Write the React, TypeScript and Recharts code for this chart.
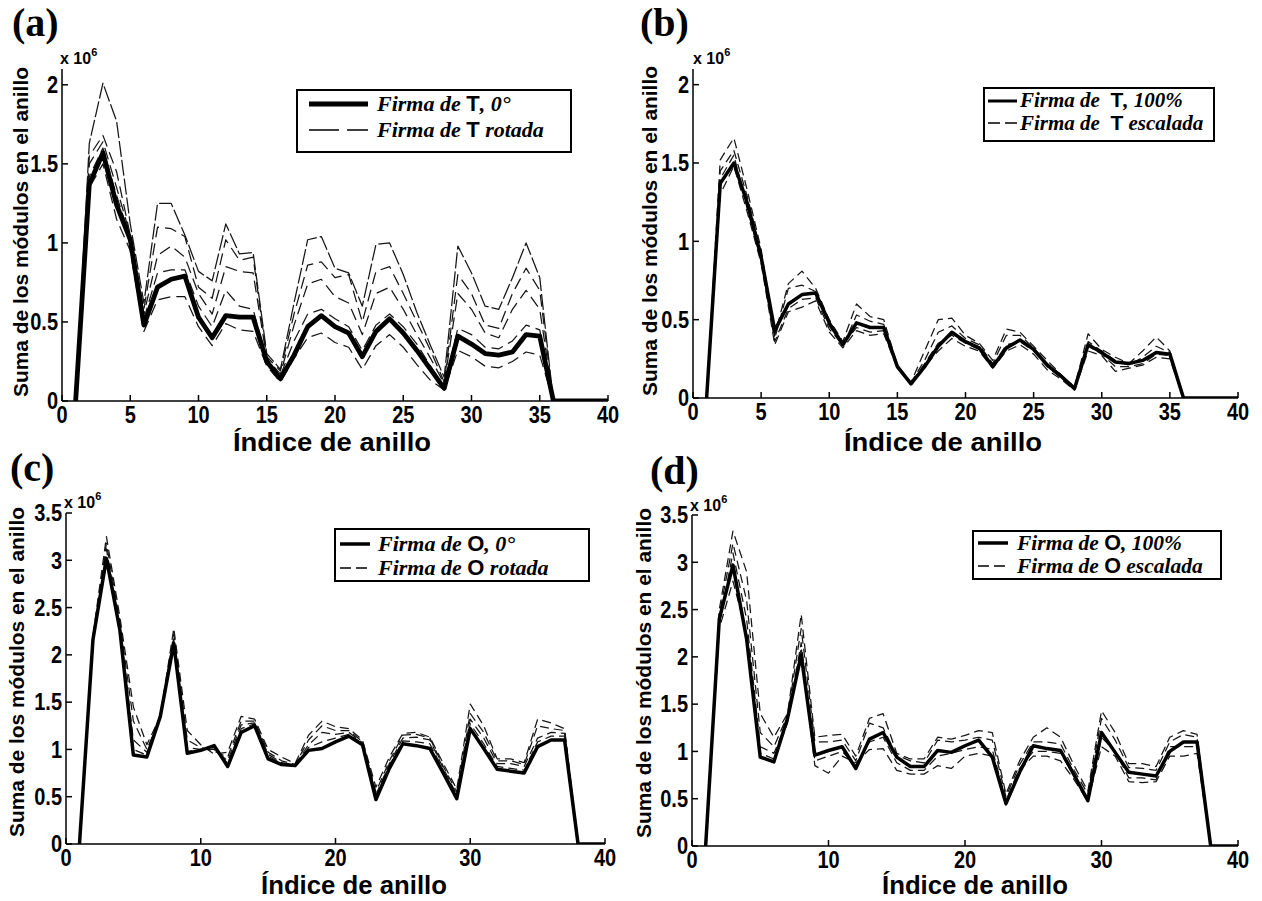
import React from 'react';
import { LineChart, Line, XAxis, YAxis, Legend } from 'recharts';

// ---------- data (values in units of 10^6) ----------
const ringIndex = [1, 2, 3, 4, 5, 6, 7, 8, 9, 10, 11, 12, 13, 14, 15, 16, 17, 18, 19, 20,
  21, 22, 23, 24, 25, 26, 27, 28, 29, 30, 31, 32, 33, 34, 35, 36, 37, 38, 39, 40];

const xTicksAB = [0, 5, 10, 15, 20, 25, 30, 35, 40];
const xTicksCD = [0, 10, 20, 30, 40];
const yTicksAB = [0, 0.5, 1, 1.5, 2];
const yTicksARight = [0, 0.2, 0.4, 0.6, 0.8, 1, 1.2, 1.4, 1.6, 1.8, 2];
const yTicksCD = [0, 0.5, 1, 1.5, 2, 2.5, 3, 3.5];

// (a) Firma de T, 0° and rotated versions
const tSignature0 = [0, 1.37, 1.57, 1.24, 1.02, 0.48, 0.72, 0.77, 0.79, 0.53,
  0.40, 0.54, 0.53, 0.53, 0.25, 0.14, 0.29, 0.47, 0.54, 0.47,
  0.43, 0.28, 0.44, 0.52, 0.43, 0.32, 0.20, 0.08, 0.41, 0.36,
  0.30, 0.29, 0.31, 0.42, 0.41, 0, 0, 0, 0, 0];
const tRotated1 = [0, 1.63, 2.01, 1.77, 1.12, 0.62, 1.25, 1.25, 1.05, 0.82,
  0.76, 1.12, 0.93, 0.94, 0.30, 0.20, 0.62, 1.02, 1.04, 0.84,
  0.81, 0.60, 0.99, 1.00, 0.80, 0.56, 0.35, 0.15, 0.98, 0.81,
  0.60, 0.58, 0.78, 1.00, 0.78, 0, 0, 0, 0, 0];
const tRotated2 = [0, 1.55, 1.68, 1.45, 1.05, 0.58, 1.10, 1.09, 1.04, 0.72,
  0.65, 1.02, 0.89, 0.91, 0.28, 0.19, 0.55, 0.86, 0.88, 0.78,
  0.80, 0.50, 0.82, 0.85, 0.68, 0.50, 0.32, 0.12, 0.80, 0.68,
  0.48, 0.46, 0.68, 0.84, 0.70, 0, 0, 0, 0, 0];
const tRotated3 = [0, 1.50, 1.64, 1.35, 1.05, 0.55, 0.92, 0.98, 0.91, 0.68,
  0.55, 0.85, 0.82, 0.81, 0.27, 0.17, 0.48, 0.74, 0.77, 0.66,
  0.62, 0.42, 0.68, 0.72, 0.58, 0.42, 0.27, 0.11, 0.68, 0.58,
  0.43, 0.40, 0.58, 0.70, 0.58, 0, 0, 0, 0, 0];
const tRotated4 = [0, 1.42, 1.60, 1.30, 1.03, 0.52, 0.81, 0.83, 0.83, 0.60,
  0.47, 0.70, 0.60, 0.58, 0.26, 0.16, 0.38, 0.55, 0.58, 0.52,
  0.47, 0.32, 0.48, 0.55, 0.47, 0.36, 0.22, 0.09, 0.46, 0.42,
  0.34, 0.33, 0.38, 0.48, 0.45, 0, 0, 0, 0, 0];
const tRotated5 = [0, 1.35, 1.50, 1.15, 0.95, 0.44, 0.64, 0.66, 0.66, 0.47,
  0.35, 0.49, 0.45, 0.44, 0.22, 0.12, 0.27, 0.40, 0.43, 0.37,
  0.34, 0.20, 0.35, 0.42, 0.34, 0.23, 0.13, 0.07, 0.32, 0.28,
  0.22, 0.21, 0.25, 0.31, 0.29, 0, 0, 0, 0, 0];

// (b) Firma de T, 100% and scaled versions
const tSignature100 = [0, 1.37, 1.50, 1.24, 0.90, 0.43, 0.60, 0.66, 0.67, 0.48,
  0.34, 0.48, 0.45, 0.45, 0.20, 0.09, 0.20, 0.33, 0.42, 0.36,
  0.32, 0.20, 0.32, 0.37, 0.31, 0.21, 0.14, 0.06, 0.34, 0.29,
  0.23, 0.22, 0.24, 0.29, 0.28, 0, 0, 0, 0, 0];
const tScaled1 = [0, 1.52, 1.66, 1.32, 0.95, 0.40, 0.73, 0.81, 0.70, 0.50,
  0.36, 0.60, 0.52, 0.50, 0.21, 0.10, 0.30, 0.50, 0.51, 0.40,
  0.35, 0.24, 0.44, 0.42, 0.33, 0.24, 0.15, 0.07, 0.41, 0.31,
  0.26, 0.22, 0.30, 0.39, 0.30, 0, 0, 0, 0, 0];
const tScaled2 = [0, 1.45, 1.58, 1.28, 0.93, 0.38, 0.70, 0.72, 0.68, 0.46,
  0.33, 0.53, 0.49, 0.47, 0.20, 0.10, 0.24, 0.42, 0.46, 0.38,
  0.34, 0.22, 0.40, 0.40, 0.32, 0.22, 0.15, 0.07, 0.36, 0.30,
  0.24, 0.21, 0.26, 0.33, 0.29, 0, 0, 0, 0, 0];
const tScaled3 = [0, 1.40, 1.55, 1.20, 0.88, 0.36, 0.57, 0.63, 0.64, 0.44,
  0.34, 0.45, 0.42, 0.43, 0.19, 0.09, 0.22, 0.35, 0.40, 0.35,
  0.31, 0.21, 0.34, 0.36, 0.30, 0.20, 0.13, 0.06, 0.33, 0.28,
  0.20, 0.20, 0.22, 0.28, 0.27, 0, 0, 0, 0, 0];
const tScaled4 = [0, 1.30, 1.48, 1.18, 0.86, 0.34, 0.55, 0.58, 0.62, 0.42,
  0.32, 0.43, 0.40, 0.41, 0.19, 0.09, 0.20, 0.30, 0.38, 0.33,
  0.30, 0.19, 0.30, 0.34, 0.28, 0.18, 0.12, 0.05, 0.30, 0.27,
  0.17, 0.19, 0.21, 0.26, 0.25, 0, 0, 0, 0, 0];

// (c) Firma de O, 0° and rotated versions
const oSignature0 = [0, 2.16, 3.02, 2.26, 0.94, 0.92, 1.35, 2.12, 0.96, 0.99,
  1.04, 0.82, 1.18, 1.25, 0.90, 0.84, 0.83, 0.99, 1.01, 1.08,
  1.14, 1.05, 0.47, 0.80, 1.06, 1.04, 1.01, 0.75, 0.48, 1.22,
  1.01, 0.79, 0.77, 0.75, 1.03, 1.10, 1.10, 0, 0, 0];
const oRotated1 = [0, 2.20, 3.25, 2.40, 1.45, 1.05, 1.35, 2.28, 1.20, 1.05,
  0.95, 0.97, 1.35, 1.32, 1.00, 0.92, 0.85, 1.15, 1.30, 1.24,
  1.22, 1.10, 0.60, 0.92, 1.17, 1.18, 1.13, 0.85, 0.58, 1.48,
  1.25, 0.90, 0.90, 0.86, 1.32, 1.28, 1.22, 0, 0, 0];
const oRotated2 = [0, 2.18, 3.18, 2.35, 1.30, 1.00, 1.34, 2.22, 1.10, 1.02,
  0.98, 0.92, 1.30, 1.30, 0.97, 0.88, 0.84, 1.10, 1.25, 1.20,
  1.20, 1.08, 0.55, 0.88, 1.15, 1.16, 1.12, 0.82, 0.55, 1.38,
  1.18, 0.88, 0.88, 0.84, 1.25, 1.22, 1.20, 0, 0, 0];
const oRotated3 = [0, 2.17, 3.12, 2.30, 1.10, 0.97, 1.33, 2.18, 1.02, 1.00,
  1.00, 0.88, 1.26, 1.28, 0.95, 0.86, 0.84, 1.05, 1.18, 1.16,
  1.18, 1.07, 0.52, 0.85, 1.12, 1.13, 1.10, 0.80, 0.52, 1.32,
  1.12, 0.85, 0.85, 0.82, 1.12, 1.18, 1.17, 0, 0, 0];
const oRotated4 = [0, 2.16, 3.06, 2.28, 1.00, 0.94, 1.34, 2.15, 0.98, 1.00,
  1.02, 0.85, 1.22, 1.27, 0.93, 0.85, 0.83, 1.02, 1.08, 1.12,
  1.16, 1.06, 0.50, 0.83, 1.09, 1.08, 1.06, 0.78, 0.50, 1.27,
  1.06, 0.82, 0.80, 0.78, 1.08, 1.14, 1.14, 0, 0, 0];

// (d) Firma de O, 100% and scaled versions
const oSignature100 = [0, 2.40, 2.97, 2.19, 0.94, 0.89, 1.35, 2.02, 0.96, 1.01,
  1.05, 0.82, 1.13, 1.20, 0.94, 0.84, 0.84, 1.01, 0.99, 1.06,
  1.12, 0.94, 0.45, 0.78, 1.06, 1.03, 1.01, 0.75, 0.48, 1.20,
  0.99, 0.78, 0.76, 0.74, 1.00, 1.10, 1.10, 0, 0, 0];
const oScaled1 = [0, 2.50, 3.33, 2.90, 1.40, 1.15, 1.40, 2.45, 1.15, 1.17,
  1.18, 0.95, 1.35, 1.40, 0.98, 0.92, 0.92, 1.15, 1.13, 1.17,
  1.22, 1.20, 0.55, 0.90, 1.15, 1.25, 1.15, 0.85, 0.58, 1.43,
  1.20, 0.87, 0.87, 0.84, 1.15, 1.22, 1.18, 0, 0, 0];
const oScaled2 = [0, 2.45, 3.20, 2.60, 1.20, 1.05, 1.38, 2.30, 1.10, 1.10,
  1.12, 0.90, 1.30, 1.25, 0.96, 0.90, 0.88, 1.12, 1.10, 1.12,
  1.15, 1.12, 0.52, 0.86, 1.10, 1.10, 1.08, 0.80, 0.55, 1.35,
  1.12, 0.83, 0.82, 0.80, 1.10, 1.18, 1.15, 0, 0, 0];
const oScaled3 = [0, 2.35, 3.10, 2.40, 1.05, 0.98, 1.32, 2.15, 0.90, 0.95,
  1.00, 0.85, 1.10, 1.15, 0.88, 0.80, 0.80, 0.95, 0.98, 1.02,
  1.05, 1.02, 0.48, 0.82, 1.00, 1.00, 0.98, 0.75, 0.50, 1.15,
  1.00, 0.72, 0.72, 0.70, 1.05, 1.05, 1.05, 0, 0, 0];
const oScaled4 = [0, 2.30, 2.80, 2.25, 0.98, 0.92, 1.30, 2.10, 0.85, 0.77,
  0.95, 0.88, 1.02, 1.03, 0.80, 0.76, 0.76, 0.85, 0.82, 0.95,
  0.98, 0.95, 0.43, 0.80, 0.95, 0.95, 0.90, 0.70, 0.47, 1.05,
  0.95, 0.68, 0.67, 0.68, 0.95, 0.95, 0.98, 0, 0, 0];

// ---------- styling ----------
const SANS = "'Liberation Sans', Arial, Helvetica, sans-serif";
const SERIF = "'Liberation Serif', 'Times New Roman', serif";

type Series = { key: string; values: number[]; width: number; dash?: string; color: string };
type Box = { left: number; top: number; w: number; h: number };
type LegendCfg = {
  left: number; top: number; w: number; h: number; font: number;
  lineX: [number, number]; rowY: [number, number]; textX: number; base: [number, number];
  thick: number; dash: string; letter: string; pre: string; post: [string, string];
};

const thin = (key: string, values: number[], dash: string): Series => ({ key, values, width: 1.25, dash, color: '#151515' });

const panels: {
  id: string; box: Box; yDomain: [number, number]; yTicks: number[]; yTicksRight: number[];
  xTicks: number[]; series: Series[]; legend: LegendCfg;
}[] = [
  {
    id: 'a', box: { left: 62, top: 69, w: 546, h: 332 }, yDomain: [0, 2.1], yTicks: yTicksAB, yTicksRight: yTicksARight,
    xTicks: xTicksAB,
    series: [
      thin('r1', tRotated1, '16 3'), thin('r2', tRotated2, '12 6'), thin('r3', tRotated3, '12 6'),
      thin('r4', tRotated4, '12 6'), thin('r5', tRotated5, '12 6'),
      { key: 'main', values: tSignature0, width: 4.8, color: '#000' },
    ],
    legend: {
      left: 296, top: 89, w: 276, h: 64, font: 22, lineX: [13, 72], rowY: [15, 41], textX: 81, base: [22, 48],
      thick: 5, dash: '30 8', letter: 'T', pre: 'Firma de ', post: [', 0°', ' rotada'],
    },
  },
  {
    id: 'b', box: { left: 693, top: 69, w: 545, h: 329 }, yDomain: [0, 2.1], yTicks: yTicksAB, yTicksRight: yTicksAB,
    xTicks: xTicksAB,
    series: [
      thin('s1', tScaled1, '9 5'), thin('s2', tScaled2, '9 5'), thin('s3', tScaled3, '9 5'), thin('s4', tScaled4, '9 5'),
      { key: 'main', values: tSignature100, width: 3.5, color: '#000' },
    ],
    legend: {
      left: 983, top: 87, w: 232, h: 55, font: 21, lineX: [5, 34], rowY: [14, 36], textX: 37, base: [20, 43],
      thick: 3, dash: '12 5', letter: 'T', pre: 'Firma de  ', post: [', 100%', ' escalada'],
    },
  },
  {
    id: 'c', box: { left: 66, top: 513, w: 539, h: 331 }, yDomain: [0, 3.5], yTicks: yTicksCD, yTicksRight: yTicksCD,
    xTicks: xTicksCD,
    series: [
      thin('r1', oRotated1, '9 5'), thin('r2', oRotated2, '9 5'), thin('r3', oRotated3, '9 5'), thin('r4', oRotated4, '9 5'),
      { key: 'main', values: oSignature0, width: 3.5, color: '#000' },
    ],
    legend: {
      left: 334, top: 528, w: 256, h: 54, font: 22, lineX: [6, 36], rowY: [16, 40], textX: 44, base: [23, 47],
      thick: 3.5, dash: '11 5', letter: 'O', pre: 'Firma de ', post: [', 0°', ' rotada'],
    },
  },
  {
    id: 'd', box: { left: 692, top: 515, w: 546, h: 331 }, yDomain: [0, 3.5], yTicks: yTicksCD, yTicksRight: yTicksCD,
    xTicks: xTicksCD,
    series: [
      thin('s1', oScaled1, '9 5'), thin('s2', oScaled2, '9 5'), thin('s3', oScaled3, '9 5'), thin('s4', oScaled4, '9 5'),
      { key: 'main', values: oSignature100, width: 3.5, color: '#000' },
    ],
    legend: {
      left: 972, top: 530, w: 250, h: 50, font: 21.5, lineX: [6, 36], rowY: [13, 36], textX: 45, base: [20, 43],
      thick: 3.5, dash: '11 5', letter: 'O', pre: 'Firma de ', post: [', 100%', ' escalada'],
    },
  },
];

function LegendBox({ cfg }: { cfg: LegendCfg }) {
  const rows = [0, 1];
  return (
    <svg width={cfg.w} height={cfg.h} style={{ display: 'block' }}>
      <rect x={1} y={1} width={cfg.w - 2} height={cfg.h - 2} fill="#fff" stroke="#000" strokeWidth={2} />
      <line x1={cfg.lineX[0]} x2={cfg.lineX[1]} y1={cfg.rowY[0]} y2={cfg.rowY[0]} stroke="#000" strokeWidth={cfg.thick} />
      <line x1={cfg.lineX[0]} x2={cfg.lineX[1]} y1={cfg.rowY[1]} y2={cfg.rowY[1]} stroke="#000" strokeWidth={1.4} strokeDasharray={cfg.dash} />
      {rows.map((r) => (
        <text key={r} x={cfg.textX} y={cfg.base[r]} fontFamily={SERIF} fontStyle="italic" fontWeight="bold" fontSize={cfg.font}
          fill="#000" style={{ whiteSpace: 'pre' }}>
          <tspan>{cfg.pre}</tspan>
          <tspan fontFamily={SANS} fontStyle="normal">{cfg.letter}</tspan>
          <tspan>{cfg.post[r]}</tspan>
        </text>
      ))}
    </svg>
  );
}

// tick label: bold sans, slightly stretched vertically like the scanned figure
function AxisTick(props: any) {
  const { x, y, payload, textAnchor, orientation } = props;
  const label = String(payload.value);
  const dy = orientation === 'bottom' ? '0.72em' : '0.36em';
  return (
    <g transform={`translate(${x},${y}) scale(1,1.15)`}>
      <text x={0} y={0} dy={dy} textAnchor={textAnchor} fill="#000" fontSize={20} fontWeight="bold" fontFamily={SANS}>
        {label}
      </text>
    </g>
  );
}

function Panel({ p }: { p: (typeof panels)[number] }) {
  const L = 60, T = 20, R = 24, B = 40;
  const data = ringIndex.map((x, k) => {
    const row: Record<string, number> = { x };
    p.series.forEach((s) => { row[s.key] = s.values[k]; });
    return row;
  });
  const originX = p.box.left - L;
  const originY = p.box.top - T;
  return (
    <div style={{ position: 'absolute', left: originX, top: originY }}>
      <LineChart width={p.box.w + L + R} height={p.box.h + T + B} data={data}
        margin={{ top: T, right: R, bottom: B - 30, left: L - 50 }} style={{ overflow: 'visible' }}>
        <XAxis xAxisId="b" dataKey="x" type="number" domain={[0, 40]} ticks={p.xTicks} interval={0} height={30}
          tickSize={-6} tickMargin={11} stroke="#000" strokeWidth={1.5}
          tick={<AxisTick orientation="bottom" />} allowDataOverflow />
        <XAxis xAxisId="t" orientation="top" dataKey="x" type="number" domain={[0, 40]} ticks={p.xTicks} interval={0}
          height={0} tickSize={-6} tick={false} stroke="#000" strokeWidth={1.5} allowDataOverflow />
        <YAxis yAxisId="l" type="number" domain={p.yDomain} ticks={p.yTicks} interval={0} width={50}
          tickSize={-6} tickMargin={10} stroke="#000" strokeWidth={1.5}
          tick={<AxisTick orientation="left" />} allowDataOverflow />
        <YAxis yAxisId="r" orientation="right" type="number" domain={p.yDomain} ticks={p.yTicksRight} interval={0} width={0}
          tickSize={-6} tick={false} stroke="#000" strokeWidth={1.5} allowDataOverflow />
        {p.series.map((s) => (
          <Line key={s.key} xAxisId="b" yAxisId="l" dataKey={s.key} type="linear" stroke={s.color}
            strokeWidth={s.width} strokeDasharray={s.dash} dot={false} activeDot={false}
            isAnimationActive={false} strokeLinejoin="round" legendType="none" />
        ))}
        <Legend verticalAlign="middle" align="center" layout="horizontal"
          wrapperStyle={{ left: p.legend.left - originX, top: p.legend.top - originY, width: p.legend.w, height: p.legend.h }}
          content={() => <LegendBox cfg={p.legend} />} />
      </LineChart>
    </div>
  );
}

const annotations = [
  { letter: '(a)', lx: 12, ly: 36, ex: 60, ey: 64, yx: 28, yy: 232, xx: 332, xy: 451, xw: 198 },
  { letter: '(b)', lx: 640, ly: 36, ex: 693, ey: 64, yx: 657, yy: 231, xx: 943, xy: 451, xw: 198 },
  { letter: '(c)', lx: 10, ly: 481, ex: 64, ey: 508, yx: 24, yy: 672, xx: 354, xy: 894, xw: 186 },
  { letter: '(d)', lx: 650, ly: 484, ex: 690, ey: 511, yx: 651, yy: 673, xx: 975, xy: 894, xw: 186 },
];

export default function App() {
  return (
    <div style={{ position: 'absolute', left: 0, top: 0, width: 1262, height: 901, background: '#fff', overflow: 'hidden' }}>
      {panels.map((p) => <Panel key={p.id} p={p} />)}
      <svg width={1262} height={901} style={{ position: 'absolute', left: 0, top: 0, pointerEvents: 'none' }}>
        {annotations.map((a) => (
          <g key={a.letter}>
            <text x={a.lx} y={a.ly} fontFamily={SERIF} fontSize={40} fontWeight="bold" fill="#000">{a.letter}</text>
            <text x={a.ex} y={a.ey} fontFamily={SANS} fontSize={16} fontWeight="bold" fill="#000">
              x 10<tspan dy={-8} fontSize={11}>6</tspan>
            </text>
            <text transform={`translate(${a.yx},${a.yy}) rotate(-90)`} textAnchor="middle" fontFamily={SANS} fontSize={21}
              fontWeight="bold" fill="#000" textLength={330} lengthAdjust="spacingAndGlyphs">
              Suma de los módulos en el anillo
            </text>
            <text x={a.xx} y={a.xy} textAnchor="middle" fontFamily={SANS} fontSize={25} fontWeight="bold" fill="#000"
              textLength={a.xw} lengthAdjust="spacingAndGlyphs">
              Índice de anillo
            </text>
          </g>
        ))}
      </svg>
    </div>
  );
}
